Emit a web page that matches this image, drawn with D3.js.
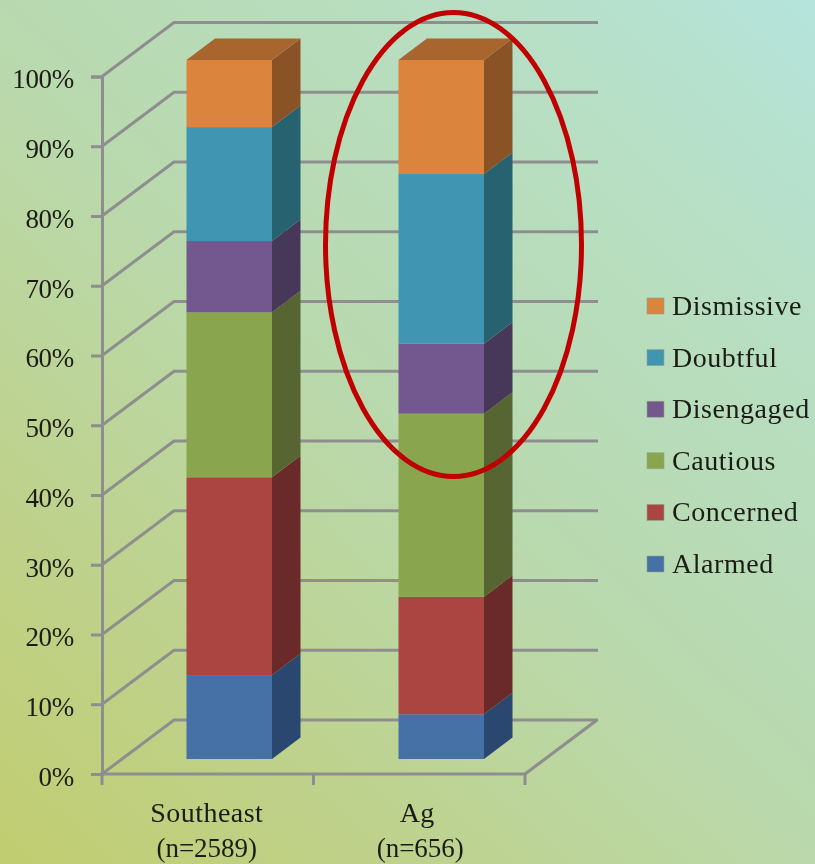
<!DOCTYPE html>
<html><head><meta charset="utf-8">
<script src="https://cdnjs.cloudflare.com/ajax/libs/d3/7.8.5/d3.min.js"></script>
<style>html,body{margin:0;padding:0;overflow:hidden;background:#b9d9ae}
text{font-family:"Liberation Serif",serif;fill:#1c1c14;font-size:27px}
.lg{font-size:28px;letter-spacing:.55px}
.cat{font-size:28px;letter-spacing:.45px}
.tk text{font-size:27px;letter-spacing:-.3px}</style>
</head><body><svg id="c" width="815" height="864"></svg>
<script>
const categories=["Southeast","Ag"];
const sampleLabels=["(n=2589)","(n=656)"];
const seriesNames=["Alarmed","Concerned","Cautious","Disengaged","Doubtful","Dismissive"];
const seriesColors=["#4471a7","#aa4543","#89a54d","#72588f","#4096b2","#db843d"];
const sideColors=["#2b4670","#6b2b2a","#566531","#47375a","#27626f","#895228"];
const topColor="#a8652e";
const alarmed=[12,6.4];
const concerned=[28.3,16.8];
const cautious=[23.6,26.2];
const disengaged=[10.2,10];
const doubtful=[16.3,24.3];
const dismissive=[9.6,16.3];
const yTicks=[0,10,20,30,40,50,60,70,80,90,100];

const svg=d3.select("#c");
const defs=svg.append("defs");
const g=defs.append("linearGradient").attr("id","bg").attr("gradientUnits","userSpaceOnUse")
 .attr("x1",0).attr("y1",864).attr("x2",815).attr("y2",0);
[[0,"#c1cd70"],[.2,"#bfd188"],[.5,"#b9d9ae"],[.8,"#b7dfc4"],[1,"#b5e4dc"]].forEach(s=>g.append("stop").attr("offset",s[0]).attr("stop-color",s[1]));
const soft=defs.append("filter").attr("id","soft");soft.append("feGaussianBlur").attr("stdDeviation",.5);
svg.append("rect").attr("width",815).attr("height",864).attr("fill","url(#bg)");

const root=svg.append("g").attr("filter","url(#soft)");
const table=categories.map((c,i)=>({cat:c,Alarmed:alarmed[i],Concerned:concerned[i],Cautious:cautious[i],Disengaged:disengaged[i],Doubtful:doubtful[i],Dismissive:dismissive[i]}));
const stacked=d3.stack().keys(seriesNames)(table);

const y=d3.scaleLinear().domain([0,100]).range([774,76.5]);
const x=d3.scaleBand().domain(categories).range([102,525]);
const wallDx=72,wallDy=-54, barDx=21,barDy=-15, depthDx=28.5,depthDy=-21.5, barW=85.5;
const lineCol="#8e8e8e", lw=3;

// walls
const grid=root.append("g").attr("fill","none").attr("stroke",lineCol).attr("stroke-width",lw);
yTicks.forEach(t=>{
 grid.append("path").attr("d",d3.line()([[x.range()[0],y(t)],[x.range()[0]+wallDx,y(t)+wallDy],[x.range()[1]+wallDx+1,y(t)+wallDy]]));
});
grid.append("path").attr("d",d3.line()([[x.range()[1],y(0)],[x.range()[1]+wallDx,y(0)+wallDy]]));

// axes
const axL=root.append("g").attr("class","tk").attr("transform",`translate(${x.range()[0]},0)`).call(d3.axisLeft(y).tickValues(yTicks).tickSize(11).tickPadding(17).tickFormat(d=>d+"%"));
axL.selectAll("line").attr("stroke",lineCol).attr("stroke-width",lw);
axL.select(".domain").attr("stroke",lineCol).attr("stroke-width",lw);
axL.selectAll("text").attr("dy","0.42em").style("font-family",'"Liberation Serif",serif');
const axB=root.append("g").attr("transform",`translate(0,${y(0)})`).call(d3.axisBottom(x).tickSize(0).tickFormat(""));
axB.select(".domain").attr("stroke",lineCol).attr("stroke-width",lw).attr("d",`M${x.range()[0]},11V0H${x.range()[1]}V11`);
[x.range()[0]+x.step()].forEach(v=>root.append("line").attr("x1",v).attr("x2",v).attr("y1",y(0)).attr("y2",y(0)+11).attr("stroke",lineCol).attr("stroke-width",lw));

// bars
const scaleH=y(0)-y(100);
const by=v=>y(0)+barDy-(v/100)*scaleH*(699/697.5);
stacked.forEach((s,k)=>{
 const lay=root.append("g").attr("class","series");
 s.forEach(d=>{
  const cat=d.data.cat;
  const left=x(cat)+x.bandwidth()/2-barW/2+barDx+.5+(cat==="Ag"?.5:0), right=left+barW;
  const y0=by(d[0]),y1=by(d[1]);
  lay.append("path").attr("fill",sideColors[k]).attr("d",d3.line()([[right,y0],[right+depthDx,y0+depthDy],[right+depthDx,y1+depthDy],[right,y1]]));
  lay.append("rect").attr("x",left).attr("y",y1).attr("width",barW).attr("height",y0-y1).attr("fill",seriesColors[k]);
  if(k===seriesNames.length-1) lay.append("path").attr("fill",topColor).attr("d",d3.line()([[left,y1],[left+depthDx,y1+depthDy],[right+depthDx,y1+depthDy],[right,y1]]));
 });
});

// category labels
categories.forEach((c,i)=>{
 const cx=x(c)+x.bandwidth()/2-1;
 root.append("text").attr("class","cat").attr("x",cx-(i?1:0)).attr("y",822).attr("text-anchor","middle").text(c);
 root.append("text").attr("x",cx+(i?2:0)).attr("y",857).attr("text-anchor","middle").text(sampleLabels[i]);
});

// legend
const legendY=d3.scalePoint().domain(seriesNames.slice().reverse()).range([306,564]);
seriesNames.forEach((n,k)=>{
 root.append("rect").attr("x",647).attr("y",legendY(n)-8).attr("width",17).attr("height",16).attr("fill",seriesColors[k]).attr("stroke","#8fa58a").attr("stroke-width",.6);
 root.append("text").attr("class","lg").attr("x",672).attr("y",legendY(n)+9).text(n);
});

// ellipse
root.append("ellipse").attr("cx",453.5).attr("cy",244.5).attr("rx",128).attr("ry",232).attr("fill","none").attr("stroke","#c00000").attr("stroke-width",5);
</script></body></html>
